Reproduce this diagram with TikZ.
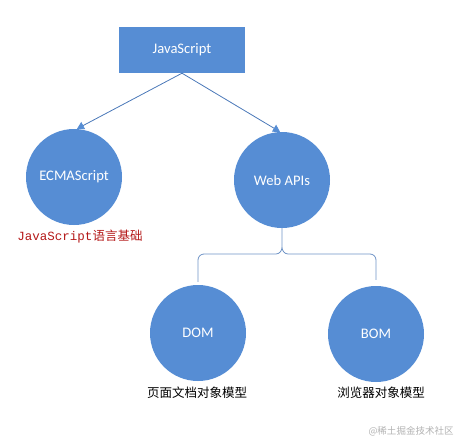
\documentclass[tikz,border=0pt]{standalone}
\usepackage{fontspec}
\setmainfont{Carlito}
\setmonofont{Liberation Mono}
\newfontfamily\cjk{Noto Sans CJK SC}
\usetikzlibrary{arrows.meta,positioning}
\definecolor{jsblue}{RGB}{86,141,212}
\definecolor{linkblue}{RGB}{74,120,184}
\definecolor{notered}{RGB}{180,25,25}

\begin{document}
\begin{tikzpicture}[x=1pt,y=-1pt,
	box/.style={fill=jsblue,text=white,minimum width=126pt,minimum height=46pt,inner sep=0pt,font=\fontsize{14.6}{16}\selectfont},
	ball/.style={circle,fill=jsblue,text=white,minimum size=96pt,inner sep=0pt,font=\fontsize{14.6}{16}\selectfont},
	note/.style={font=\fontsize{12.5}{14}\selectfont\cjk},
	link/.style={draw=linkblue,line width=0.8pt},
	tip/.style={-{Triangle[length=7pt,width=8pt,color=jsblue]}}]
		\useasboundingbox (0,0) rectangle (457,442);
		\draw (182,50) node [box] (js) {JavaScript};
		\draw (74,177) node [ball] (ecma) {ECMAScript};
		\draw (282,180) node [ball] (web) {Web APIs};
		\draw (198,333) node [ball] (dom) {DOM};
		\draw (376,334) node [ball] (bom) {BOM};

		\draw (80,237) node [note,text=notered] (ecmanote) {\ttfamily JavaScript\cjk 语言基础};
		\draw (197,393) node [note] (domnote) {页面文档对象模型};
		\draw (381,393) node [note] (bomnote) {浏览器对象模型};
		\draw (411,431) node [font=\fontsize{9.5}{11}\selectfont\cjk,text=black!30] (mark) {@稀土掘金技术社区};

		\draw [link]
			(js.south) edge [tip] ([xshift=3pt]ecma.north)
			(js.south) edge [tip] ([xshift=-2pt]web.north)
		;
		\draw [link,draw=linkblue!80]
			(web.south) -- (282,247) to[out=-90,in=0] (276,254) -- (204,254)
			to[out=180,in=90] (dom.north |- 0,260) -- ([yshift=3pt]dom.north)
			(282,247) to[out=-90,in=180] (288,254) -- (370,254)
			to[out=0,in=90] (bom.north |- 0,260) -- ([yshift=6pt]bom.north)
		;
	\end{tikzpicture}
\end{document}
